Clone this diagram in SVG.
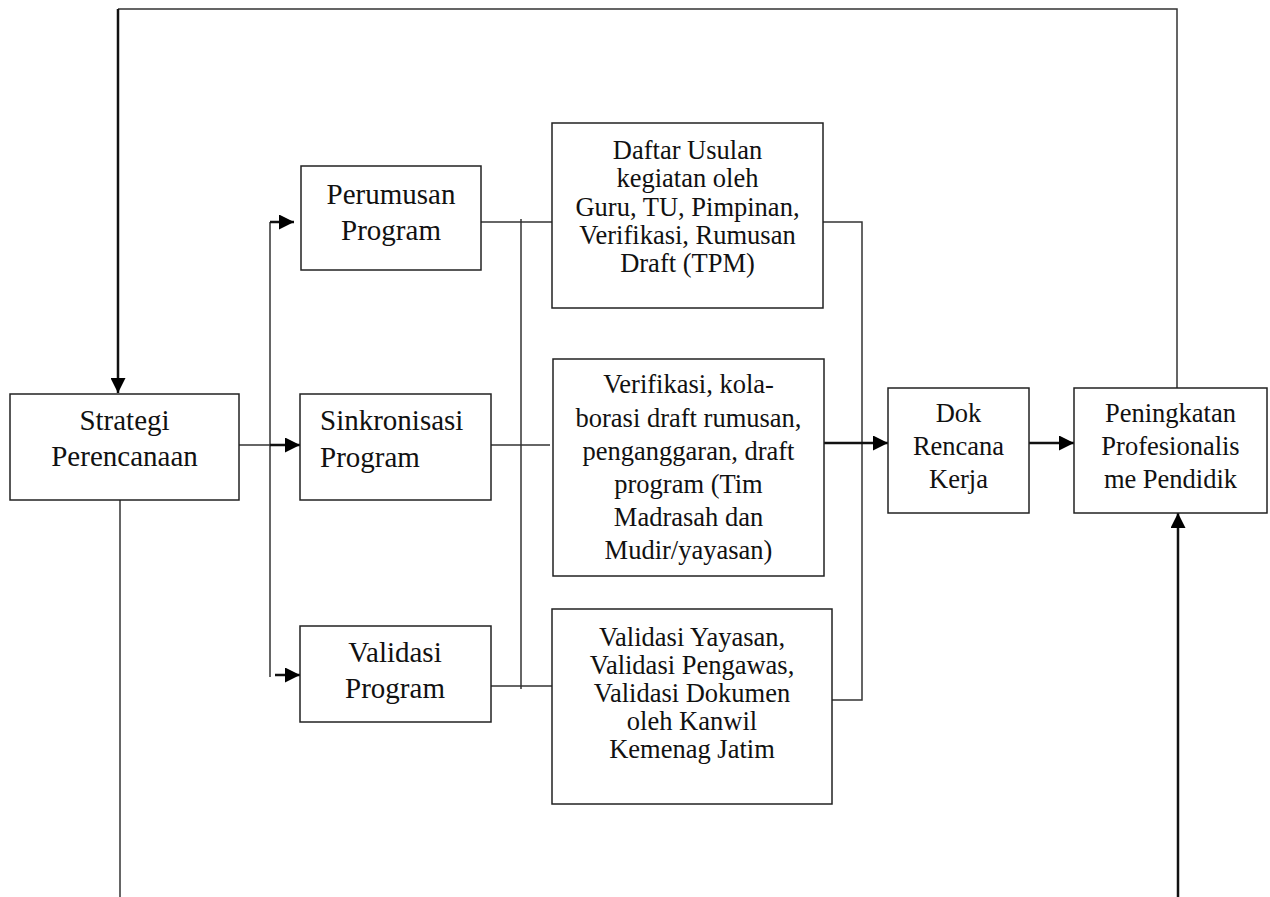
<svg xmlns="http://www.w3.org/2000/svg" width="1270" height="897" viewBox="0 0 1270 897">
  <style>
    .box { fill: #ffffff; stroke: #222; stroke-width: 1.5; }
    .line { fill: none; stroke: #333; stroke-width: 1.5; }
    .thick { fill: none; stroke: #111; stroke-width: 2.5; }
    .big { font-family: "Liberation Serif", "Times New Roman", serif; font-size: 29px; fill: #111; }
    .small { font-family: "Liberation Serif", "Times New Roman", serif; font-size: 26.5px; fill: #111; }
    .c { text-anchor: middle; }
  </style>
  <defs>
    <marker id="arrow" markerUnits="userSpaceOnUse" markerWidth="16" markerHeight="15" refX="15" refY="7.5" orient="auto">
      <path d="M0,0 L15,7.5 L0,15 Z" fill="#000"/>
    </marker>
  </defs>
  <rect width="1270" height="897" fill="#ffffff"/>

  <!-- connectors -->
  <g id="connectors">
    <!-- feedback loop over the top -->
    <polyline class="line" points="1177,388 1177,9 118,9"/>
    <line class="thick" x1="118" y1="9" x2="118" y2="393" stroke-width="2" marker-end="url(#arrow)"/>
    <!-- Strategi down to bottom edge -->
    <line class="line" x1="120" y1="500" x2="120" y2="897"/>
    <!-- bottom edge up to Peningkatan -->
    <line class="thick" x1="1178" y1="897" x2="1178" y2="513" marker-end="url(#arrow)"/>

    <!-- Strategi fan-out -->
    <line class="line" x1="239" y1="445" x2="270" y2="445"/>
    <line class="line" x1="270" y1="222" x2="270" y2="677"/>
    <line class="thick" x1="270" y1="222" x2="294" y2="222" marker-end="url(#arrow)"/>
    <line class="thick" x1="270" y1="445" x2="300" y2="445" marker-end="url(#arrow)"/>
    <line class="thick" x1="275" y1="675" x2="300" y2="675" marker-end="url(#arrow)"/>

    <!-- program boxes to detail boxes -->
    <line class="line" x1="481" y1="222" x2="552" y2="222"/>
    <line class="line" x1="491" y1="445" x2="550" y2="445"/>
    <line class="line" x1="491" y1="686" x2="552" y2="686"/>
    <line class="line" x1="521" y1="219" x2="521" y2="689"/>

    <!-- detail boxes to Dok Rencana Kerja -->
    <polyline class="line" points="823,222 862,222 862,700 832,700"/>
    <line class="thick" x1="824" y1="443" x2="888" y2="443" marker-end="url(#arrow)"/>
    <line class="thick" x1="1029" y1="443" x2="1074" y2="443" marker-end="url(#arrow)"/>
  </g>

  <g id="strategi">
    <rect class="box" x="10" y="394" width="229" height="106"/>
    <text class="big c" x="124.5" y="430">Strategi</text>
    <text class="big c" x="124.5" y="466">Perencanaan</text>
  </g>

  <g id="perumusan">
    <rect class="box" x="301" y="166" width="180" height="104"/>
    <text class="big c" x="391" y="204">Perumusan</text>
    <text class="big c" x="391" y="240">Program</text>
  </g>

  <g id="sinkronisasi">
    <rect class="box" x="300" y="394" width="191" height="106"/>
    <text class="big" x="320" y="430">Sinkronisasi</text>
    <text class="big" x="320" y="467">Program</text>
  </g>

  <g id="validasi">
    <rect class="box" x="300" y="626" width="191" height="96"/>
    <text class="big c" x="395" y="662">Validasi</text>
    <text class="big c" x="395" y="698">Program</text>
  </g>

  <g id="daftar-usulan">
    <rect class="box" x="552" y="123" width="271" height="185"/>
    <text class="small c" x="687.5" y="159">Daftar Usulan</text>
    <text class="small c" x="687.5" y="187">kegiatan oleh</text>
    <text class="small c" x="687.5" y="216">Guru, TU, Pimpinan,</text>
    <text class="small c" x="687.5" y="244">Verifikasi, Rumusan</text>
    <text class="small c" x="687.5" y="272">Draft (TPM)</text>
  </g>

  <g id="verifikasi">
    <rect class="box" x="553" y="359" width="271" height="217"/>
    <text class="small c" x="688.5" y="393">Verifikasi, kola-</text>
    <text class="small c" x="688.5" y="427">borasi draft rumusan,</text>
    <text class="small c" x="688.5" y="460">penganggaran, draft</text>
    <text class="small c" x="688.5" y="493">program (Tim</text>
    <text class="small c" x="688.5" y="526">Madrasah dan</text>
    <text class="small c" x="688.5" y="559">Mudir/yayasan)</text>
  </g>

  <g id="validasi-yayasan">
    <rect class="box" x="552" y="609" width="280" height="195"/>
    <text class="small c" x="692" y="646">Validasi Yayasan,</text>
    <text class="small c" x="692" y="674">Validasi Pengawas,</text>
    <text class="small c" x="692" y="702">Validasi Dokumen</text>
    <text class="small c" x="692" y="730">oleh Kanwil</text>
    <text class="small c" x="692" y="758">Kemenag Jatim</text>
  </g>

  <g id="dok-rencana">
    <rect class="box" x="888" y="388" width="141" height="125"/>
    <text class="small c" x="958.5" y="422">Dok</text>
    <text class="small c" x="958.5" y="455">Rencana</text>
    <text class="small c" x="958.5" y="488">Kerja</text>
  </g>

  <g id="peningkatan">
    <rect class="box" x="1074" y="388" width="193" height="125"/>
    <text class="small c" x="1170.5" y="422">Peningkatan</text>
    <text class="small c" x="1170.5" y="455">Profesionalis</text>
    <text class="small c" x="1170.5" y="488">me Pendidik</text>
  </g>
</svg>
